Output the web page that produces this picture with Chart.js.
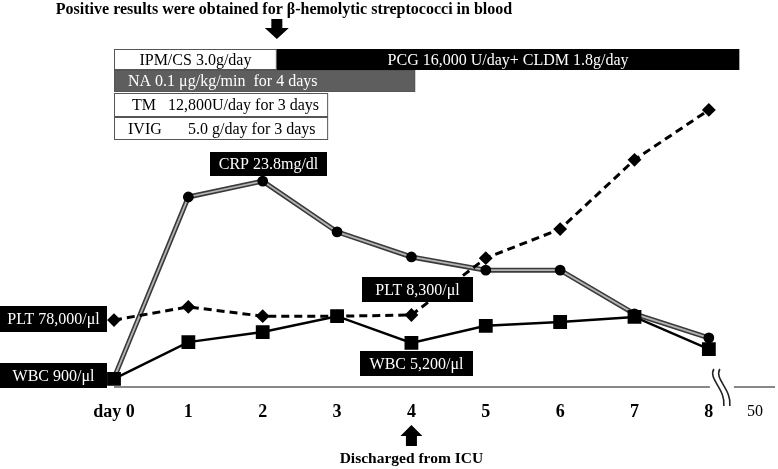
<!DOCTYPE html>
<html><head><meta charset="utf-8">
<script src="https://cdn.jsdelivr.net/npm/chart.js@4"></script>
<style>html,body{margin:0;padding:0;background:#fff}</style>
</head><body>
<canvas id="c" width="778" height="469"></canvas>
<script>
// ---- data (relative heights, 0 = time axis, 100 = top of plot) ----
const days = [0, 1, 2, 3, 4, 5, 6, 7, 8];
const tickPositions = [0, 1, 2, 3, 4, 5, 6, 7, 8, 8.62];
const tickLabels = ['day 0', '1', '2', '3', '4', '5', '6', '7', '8', '50'];
const crp = [2.3, 49.1, 53.2, 40.1, 33.6, 30.2, 30.2, 18.9, 12.7];
const plt = [17.3, 20.7, 18.3, 18.3, 18.6, 33.3, 40.8, 58.7, 71.6];
const wbc = [2.1, 11.6, 14.2, 18.3, 11.4, 15.8, 16.8, 18.1, 9.8];

// treatment bars (day start, day end)
const treatLabels = ['IPM/CS 3.0g/day', 'PCG 16,000 U/day+ CLDM 1.8g/day', 'NA 0.1 μg/kg/min  for 4 days', 'TM', 'IVIG'];
const treatStart = [0, 2.19, 0, 0, 0];
const treatEnd = [2.19, 8.41, 4.05, 2.88, 2.88];

const SERIF = '"Liberation Serif", "Times New Roman", serif';
const pts = arr => days.map((d, i) => ({x: d, y: arr[i]}));

function box(ctx, x, y, w, h, fill, stroke) {
  ctx.fillStyle = fill; ctx.fillRect(x, y, w, h);
  if (stroke) { ctx.strokeStyle = stroke; ctx.lineWidth = 1; ctx.strokeRect(x + 0.5, y + 0.5, w - 1, h - 1); }
}
function text(ctx, s, x, y, opts) {
  ctx.font = (opts.bold ? 'bold ' : '') + (opts.size || 16) + 'px ' + SERIF;
  ctx.fillStyle = opts.color || '#000';
  ctx.textAlign = opts.align || 'center';
  ctx.textBaseline = 'middle';
  ctx.fillText(s, x, y);
}
function label(ctx, s, x0, y0, x1, y1) {
  box(ctx, x0, y0, x1 - x0, y1 - y0, '#000');
  text(ctx, s, (x0 + x1) / 2, (y0 + y1) / 2 + 1, {color: '#fff'});
}

const deco = {
  id: 'deco',
  beforeDatasetsDraw(chart) {
    const ctx = chart.ctx, xs = chart.scales.x, ys = chart.scales.y;
    const y0 = ys.getPixelForValue(0);
    const x0 = xs.getPixelForValue(0), x8 = xs.getPixelForValue(8.0);
    ctx.save();
    ctx.strokeStyle = '#888'; ctx.lineWidth = 2;
    ctx.beginPath(); ctx.moveTo(x0, y0); ctx.lineTo(x8 + 1, y0);
    ctx.moveTo(x8 + 25, y0); ctx.lineTo(775, y0); ctx.stroke();
    // break marks
    ctx.strokeStyle = '#222'; ctx.lineWidth = 1.6;
    [x8 + 5, x8 + 11].forEach(bx => {
      ctx.beginPath();
      ctx.moveTo(bx, y0 - 18);
      ctx.bezierCurveTo(bx - 6, y0 - 8, bx + 12, y0 + 2, bx + 10, y0 + 19);
      ctx.stroke();
    });
    ctx.restore();
  },
  afterDraw(chart) {
    const ctx = chart.ctx, xs = chart.scales.x;
    const px = v => xs.getPixelForValue(v);
    ctx.save();
    // title
    text(ctx, 'Positive results were obtained for β-hemolytic streptococci in blood', 284, 10, {bold: true, size: 16});
    // down arrow at start of PCG
    const ax = px(treatStart[1]);
    ctx.fillStyle = '#000';
    ctx.beginPath();
    ctx.moveTo(ax - 5.5, 19); ctx.lineTo(ax + 5.5, 19); ctx.lineTo(ax + 5.5, 28); ctx.lineTo(ax + 12, 28);
    ctx.lineTo(ax, 39); ctx.lineTo(ax - 12, 28); ctx.lineTo(ax - 5.5, 28); ctx.closePath(); ctx.fill();
    // treatment rows
    const rows = [[49, 70], [49, 70], [70, 92], [93, 117], [117, 140]];
    const fills = ['#fff', '#000', '#5e5e5e', '#fff', '#fff'];
    const strokes = ['#555', null, '#555', '#555', '#555'];
    for (let i = 0; i < 5; i++) {
      const a = px(treatStart[i]), b = px(treatEnd[i]);
      box(ctx, a, rows[i][0], b - a, rows[i][1] - rows[i][0], fills[i], strokes[i]);
    }
    const cy = i => (rows[i][0] + rows[i][1]) / 2 + 1;
    text(ctx, treatLabels[0], (px(treatStart[0]) + px(treatEnd[0])) / 2, cy(0), {});
    text(ctx, treatLabels[1], (px(treatStart[1]) + px(treatEnd[1])) / 2, cy(1), {color: '#fff'});
    text(ctx, treatLabels[2], px(0) + 14, cy(2), {color: '#fff', align: 'left'});
    text(ctx, treatLabels[3], px(0) + 18, cy(3), {align: 'left'});
    text(ctx, '12,800U/day for 3 days', px(0) + 54, cy(3), {align: 'left'});
    text(ctx, treatLabels[4], px(0) + 14, cy(4), {align: 'left'});
    text(ctx, '5.0 g/day for 3 days', px(0) + 74, cy(4), {align: 'left'});
    // value labels
    label(ctx, 'CRP 23.8mg/dl', 210, 152, 327, 176);
    label(ctx, 'PLT 8,300/μl', 362, 277, 473, 302);
    label(ctx, 'PLT 78,000/μl', 0, 306, 107, 332);
    label(ctx, 'WBC 900/μl', 0, 363, 107, 388);
    label(ctx, 'WBC 5,200/μl', 360, 351, 473, 376);
    // up arrow at day 4
    const ux = px(4);
    ctx.fillStyle = '#000';
    ctx.beginPath();
    ctx.moveTo(ux, 425); ctx.lineTo(ux + 11, 436); ctx.lineTo(ux + 5.5, 436); ctx.lineTo(ux + 5.5, 446);
    ctx.lineTo(ux - 5.5, 446); ctx.lineTo(ux - 5.5, 436); ctx.lineTo(ux - 11, 436); ctx.closePath(); ctx.fill();
    text(ctx, 'Discharged from ICU', ux, 459, {bold: true, size: 15.5});
    ctx.restore();
  }
};

new Chart(document.getElementById('c'), {
  type: 'line',
  data: {
    datasets: [
      {label: 'WBC', data: pts(wbc), borderColor: '#000', borderWidth: 2.5, pointStyle: 'rect',
       pointRadius: 8, pointBackgroundColor: '#000', pointBorderColor: '#000', clip: false},
      {label: 'PLT', data: pts(plt), borderColor: '#000', borderWidth: 3, borderDash: [8, 5],
       pointStyle: 'rectRot', pointRadius: 4.8, pointBackgroundColor: '#000', pointBorderColor: '#000', clip: false},
      {label: 'CRP', data: pts(crp), borderColor: '#b4b4b4', borderWidth: 1.8, pointStyle: 'circle',
       pointRadius: 4.5, pointBackgroundColor: '#000', pointBorderColor: '#000', clip: false},
      {label: 'CRP outline', data: pts(crp), borderColor: '#3a3a3a', borderWidth: 5, pointRadius: 0, clip: false}
    ]
  },
  options: {
    responsive: false, animation: false,
    layout: {autoPadding: false, padding: {left: 114, right: 3, top: 0, bottom: 0}},
    plugins: {legend: {display: false}, tooltip: {enabled: false}},
    elements: {line: {tension: 0}},
    scales: {
      x: {
        type: 'linear', min: 0, max: 8.75,
        afterBuildTicks: s => { s.ticks = tickPositions.map(v => ({value: v})); },
        afterFit: s => { s.height = 82; },
        grid: {display: false, drawTicks: false},
        border: {display: false},
        ticks: {
          autoSkip: false, maxRotation: 0, padding: 15, color: '#000',
          callback: (v, i) => tickLabels[i],
          font: c => ({family: SERIF, size: c.index === 9 ? 16 : 18, weight: c.index === 9 ? 'normal' : 'bold'})
        }
      },
      y: {display: false, min: 0, max: 100}
    }
  },
  plugins: [deco]
});
</script>
</body></html>
